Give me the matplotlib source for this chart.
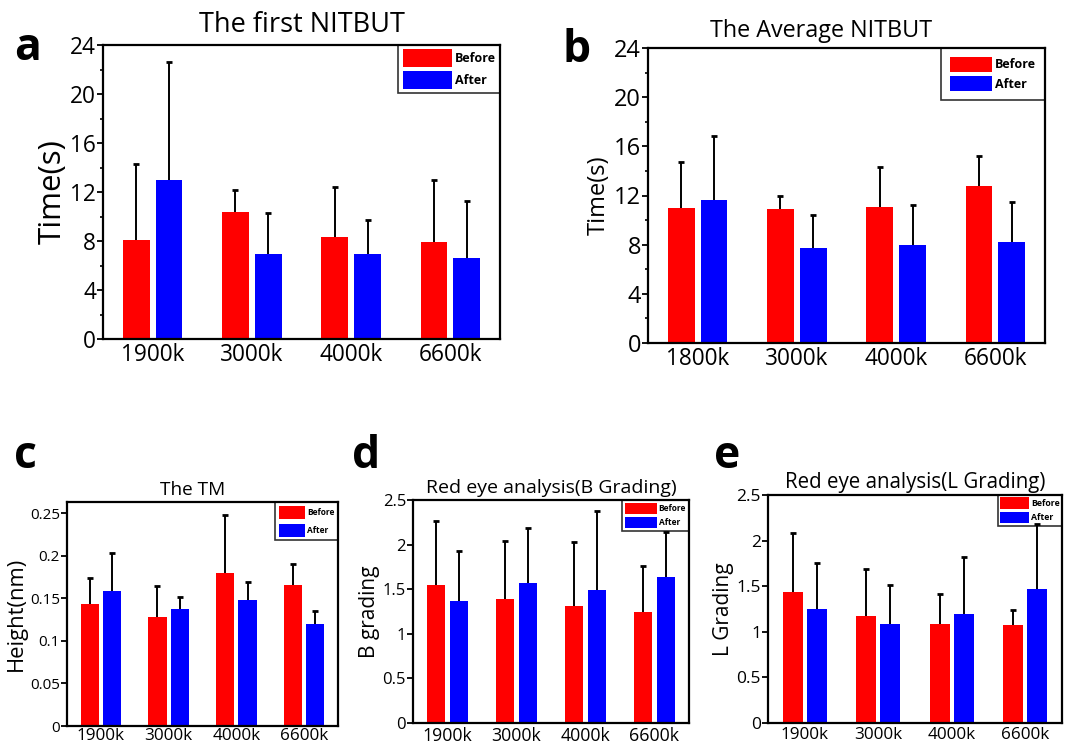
import numpy as np
import matplotlib
matplotlib.use("Agg")
import matplotlib.pyplot as plt
from matplotlib.ticker import MultipleLocator

plt.rcParams["font.family"] = ["Open Sans", "DejaVu Sans"]

W, H = 1068, 746
RED, BLUE = "#ff0000", "#0000ff"

# panel a: the first NITBUT
a_cats = ["1900k", "3000k", "4000k", "6600k"]
a_before = [8.1, 10.4, 8.3, 7.9]
a_before_err = [6.2, 1.8, 4.1, 5.1]
a_after = [13.0, 6.9, 6.9, 6.6]
a_after_err = [9.6, 3.4, 2.8, 4.7]

# panel b: the average NITBUT
b_cats = ["1800k", "3000k", "4000k", "6600k"]
b_before = [11.0, 10.9, 11.1, 12.8]
b_before_err = [3.75, 1.1, 3.25, 2.4]
b_after = [11.6, 7.7, 8.0, 8.2]
b_after_err = [5.25, 2.7, 3.2, 3.3]

# panel c: the TM
c_cats = ["1900k", "3000k", "4000k", "6600k"]
c_before = [0.143, 0.128, 0.180, 0.165]
c_before_err = [0.031, 0.036, 0.068, 0.025]
c_after = [0.158, 0.137, 0.148, 0.120]
c_after_err = [0.045, 0.014, 0.021, 0.015]

# panel d: red eye, B grading
d_cats = ["1900k", "3000k", "4000k", "6600k"]
d_before = [1.55, 1.39, 1.31, 1.24]
d_before_err = [0.72, 0.65, 0.72, 0.52]
d_after = [1.37, 1.57, 1.49, 1.64]
d_after_err = [0.56, 0.62, 0.89, 0.50]

# panel e: red eye, L grading
e_cats = ["1900k", "3000k", "4000k", "6600k"]
e_before = [1.44, 1.17, 1.09, 1.07]
e_before_err = [0.64, 0.52, 0.32, 0.17]
e_after = [1.25, 1.09, 1.20, 1.47]
e_after_err = [0.50, 0.42, 0.62, 0.71]

fig = plt.figure(figsize=(W / 100, H / 100), dpi=100)


def px_axes(l, t, r, b):
    return fig.add_axes([l / W, 1 - b / H, (r - l) / W, (b - t) / H])


def upper_bars(ax, xs, vals, errs, color, label, w):
    ek = dict(ecolor="black", elinewidth=1.4, capsize=2.5, capthick=2.0)
    bc = ax.bar(xs, vals, w, color=color, label=label,
                yerr=[np.zeros(len(vals)), errs], error_kw=ek)
    # only the upper half of the error bar is shown: hide caps sitting on the bars
    for cap in bc.errorbar.lines[1]:
        if np.allclose(cap.get_ydata(), vals):
            cap.set_visible(False)
    return bc


def panel(rect, cats, bef, bef_e, aft, aft_e, ylim, ystep, minor, title, title_x,
          title_pad, ylabel, fs_xt, fs_yt, fs_title, fs_ylab, leg, xpad=3):
    ax = px_axes(*rect)
    x = np.arange(len(cats))
    w, gap = 0.27, 0.03
    upper_bars(ax, x - w / 2 - gap, bef, bef_e, RED, "Before", w)
    upper_bars(ax, x + w / 2 + gap, aft, aft_e, BLUE, "After", w)
    ax.set_xlim(-0.5, 3.5)
    ax.set_ylim(*ylim)
    ax.set_xticks(x, cats, fontsize=fs_xt)
    ax.yaxis.set_major_locator(MultipleLocator(ystep))
    if minor:
        ax.yaxis.set_minor_locator(MultipleLocator(ystep / 2))
    ax.tick_params(axis="x", length=0, pad=xpad)
    ax.tick_params(axis="y", which="major", direction="out", length=4, width=1.3,
                   labelsize=fs_yt, pad=1)
    ax.tick_params(axis="y", which="minor", direction="out", length=2.5, width=1.2)
    ax.yaxis.set_major_formatter(plt.FuncFormatter(lambda v, p: f"{v:g}"))
    for s in ax.spines.values():
        s.set_linewidth(1.6)
    ax.set_title(title, x=title_x, fontsize=fs_title, pad=title_pad)
    ax.set_ylabel(ylabel, fontsize=fs_ylab, labelpad=2)
    size, hl, hh, spacing, bpad = leg
    lg = ax.legend(loc="upper right", frameon=True, fancybox=False,
                   edgecolor="black", borderaxespad=0, handlelength=hl,
                   handleheight=hh, labelspacing=spacing, handletextpad=0.25,
                   borderpad=bpad, prop=dict(size=size, weight="bold"))
    lg.get_frame().set_linewidth(1.2)
    lg.set_zorder(1)
    return ax


panel((103, 45, 500, 339), a_cats, a_before, a_before_err, a_after, a_after_err,
      (0, 24), 4, True, "The first NITBUT", 0.5, 9, "Time(s)",
      16.3, 16.3, 19.5, 22.5, (9, 3.9, 1.8, 0.3, 0.35))
panel((648, 48, 1045, 343), b_cats, b_before, b_before_err, b_after, b_after_err,
      (0, 24), 4, True, "The Average NITBUT", 0.435, 8, "Time(s)",
      16.3, 17, 16.8, 17, (9, 3.4, 1.5, 0.3, 0.7))
panel((67, 502, 338, 726), c_cats, c_before, c_before_err, c_after, c_after_err,
      (0, 0.263), 0.05, False, "The TM", 0.465, 5, "Height(nm)",
      12.3, 11, 13.7, 15.8, (6, 3.1, 2.0, 0.6, 0.45), xpad=1.5)
panel((413, 500, 689, 723), d_cats, d_before, d_before_err, d_after, d_after_err,
      (0, 2.5), 0.5, False, "Red eye analysis(B Grading)", 0.5, 5, "B grading",
      12.8, 12, 14, 15, (6, 3.8, 1.75, 0.25, 0.35))
panel((768, 495, 1062, 723), e_cats, e_before, e_before_err, e_after, e_after_err,
      (0, 2.5), 0.5, False, "Red eye analysis(L Grading)", 0.5, 5, "L Grading",
      12.3, 12.5, 14.8, 15, (6.3, 3.3, 1.7, 0.3, 0.25))

for lab, px, py in [("a", 14, 60), ("b", 563, 62), ("c", 14, 468), ("d", 352, 468), ("e", 714, 468)]:
    fig.text(px / W, 1 - py / H, lab, fontsize=32, fontweight="bold", va="baseline", ha="left")

fig.savefig("out.png", dpi=100)
